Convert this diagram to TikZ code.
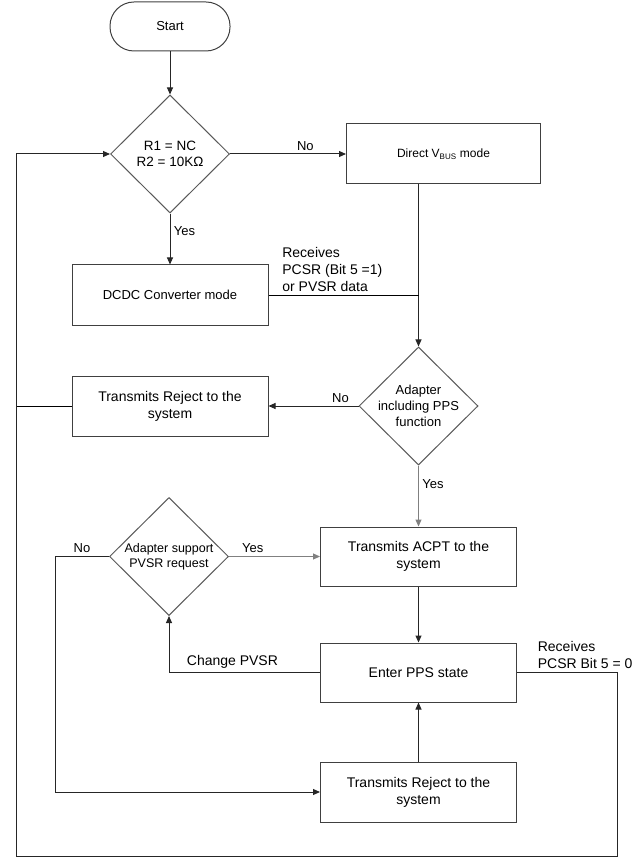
\documentclass[tikz,border=0pt]{standalone}
\usepackage{fontspec}
\setmainfont{Liberation Sans}
\usetikzlibrary{shapes.geometric,arrows.meta,positioning,calc}

\begin{document}
\begin{tikzpicture}[x=1pt, y=1pt, >={Triangle[length=7pt,width=6pt]}, line width=1pt,
    box/.style={draw=black!75, minimum width=196pt, minimum height=60pt,
                align=center, font=\fontsize{14}{17}\selectfont},
    decision/.style={draw=black!65, diamond, minimum width=119pt, minimum height=118pt,
                inner sep=-2pt, align=center, font=\fontsize{13}{16}\selectfont},
    term/.style={draw=black!75, rounded corners=24pt, minimum width=120pt,
                minimum height=49pt, font=\fontsize{13}{16}\selectfont},
    lbl/.style={font=\fontsize{14}{17}\selectfont, align=left},
    ans/.style={font=\fontsize{13}{16}\selectfont},
    flow/.style={->, draw=black!85},
    faint/.style={->, draw=black!50}]
  \useasboundingbox (0,0) rectangle (639,-866);

  \node[term] (start) at (170,-26.5) {Start};
  \node[decision, below=43pt of start, font=\fontsize{13.5}{16}\selectfont] (check) {R1 = NC\\R2 = 10KΩ};
  \node[box, right=116pt of check, minimum width=194pt, font=\fontsize{12}{15}\selectfont] (direct) {Direct V\textsubscript{BUS}\ mode};
  \node[box, below=51pt of check, font=\fontsize{13}{16}\selectfont] (dcdc) {DCDC Converter mode};
  \node[box, below=50pt of dcdc] (reject) {Transmits Reject to the\\system};
  \node[decision, right=90pt of reject] (ppscheck) {Adapter\\including PPS\\function};
  \node[box, below=61pt of ppscheck, minimum height=59pt] (accept) {Transmits ACPT to the\\system};
  \node[box, below=56pt of accept, minimum height=59pt] (ppsstate) {Enter PPS state};
  \node[box, below=59pt of ppsstate] (reject2) {Transmits Reject to the\\system};
  \node[decision, left=91pt of accept, inner sep=0pt, font=\fontsize{12.5}{15}\selectfont] (pvsr) {Adapter support\\PVSR request};

  \coordinate (loopr) at (617,-856);
  \coordinate (loopl) at (16,-856);

  \draw[flow] (start) -- (check);
  \draw[flow] (check.east) -- node[ans, above, pos=0.65] {No} (direct.west);
  \draw[flow] (check) -- node[ans, right, pos=0.35] {Yes} (dcdc);
  \draw[flow] (direct.south -| ppscheck) -- (ppscheck);
  \draw (dcdc.east) -- node[lbl, pos=0, anchor=south west, xshift=10pt] {Receives\\PCSR (Bit 5 =1)\\or PVSR data} (dcdc.east -| ppscheck);
  \draw[flow] (ppscheck) -- node[ans, above, pos=0.2] {No} (reject);
  \draw (reject.west) -- (reject.west -| loopl);
  \draw[faint] (ppscheck) -- node[ans, right, pos=0.3] {Yes} (accept);
  \draw[faint] (pvsr.east) -- node[ans, above, pos=0.26] {Yes} (accept.west);
  \draw[flow] (pvsr.west) -- node[ans, above] {No} ++(-54pt,0) |- (reject2.west);
  \draw[flow] (accept) -- (ppsstate);
  \draw[flow] (ppsstate.west) -| node[lbl, above, pos=0.29] {Change PVSR} (pvsr.south);
  \draw[flow] (reject2) -- (ppsstate);
  \draw[flow] (ppsstate.east) -| node[lbl, pos=0, anchor=south west, xshift=17pt] {Receives\\PCSR Bit 5 = 0} (loopr)
    -- (loopl) |- (check.west);
\end{tikzpicture}
\end{document}
